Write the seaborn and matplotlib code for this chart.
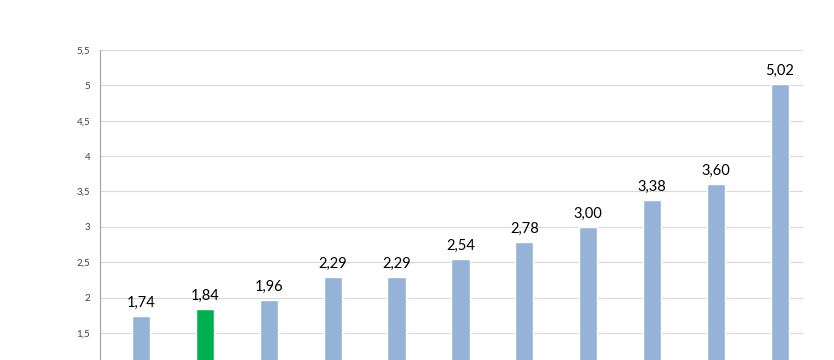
import matplotlib
matplotlib.use("Agg")
import matplotlib.pyplot as plt
import seaborn as sns
import pandas as pd

# values (bottom of the chart is cropped, no category names visible)
categories = [f"C{i}" for i in range(1, 12)]
values = [1.74, 1.84, 1.96, 2.29, 2.29, 2.54, 2.78, 3.00, 3.38, 3.60, 5.02]
bar_colors = ["#95B3D7", "#00B050"] + ["#95B3D7"] * 9
yticks = [1.5, 2, 2.5, 3, 3.5, 4, 4.5, 5, 5.5]

df = pd.DataFrame({"cat": categories, "val": values})

sns.set_style("white")
plt.rcParams["font.family"] = ["Lato", "DejaVu Sans"]

fig = plt.figure(figsize=(8.34, 3.6), dpi=100)
ax = fig.add_axes([0.1199, 0.0, 0.8429, 0.8611])

sns.barplot(data=df, x="cat", y="val", hue="cat", palette=bar_colors,
            saturation=1, width=0.285, legend=False, ax=ax, zorder=3)

# bars sit slightly right of the slot centres in the original
ax.set_xlim(-0.64, 10.36)
ax.set_ylim(1.118, 5.5)
ax.set_yticks(yticks)
ax.set_yticklabels([f"{t:g}".replace(".", ",") for t in yticks], fontsize=7, color="#404040")
ax.yaxis.grid(True, color="#D9D9D9", linewidth=0.8, zorder=0)
ax.set_axisbelow(True)
ax.tick_params(axis="y", length=4, width=0.8, color="#A0A0A0", pad=3)
ax.set_xticks([])
ax.set_xlabel("")
ax.set_ylabel("")

for s in ["top", "right", "bottom"]:
    ax.spines[s].set_visible(False)
ax.spines["left"].set_color("#A0A0A0")
ax.spines["left"].set_linewidth(0.8)

for i, v in enumerate(values):
    ax.text(i, v + 0.09, f"{v:.2f}".replace(".", ","), ha="center", va="bottom",
            fontsize=10.5, color="#000000")

fig.savefig("out.png", dpi=100)
